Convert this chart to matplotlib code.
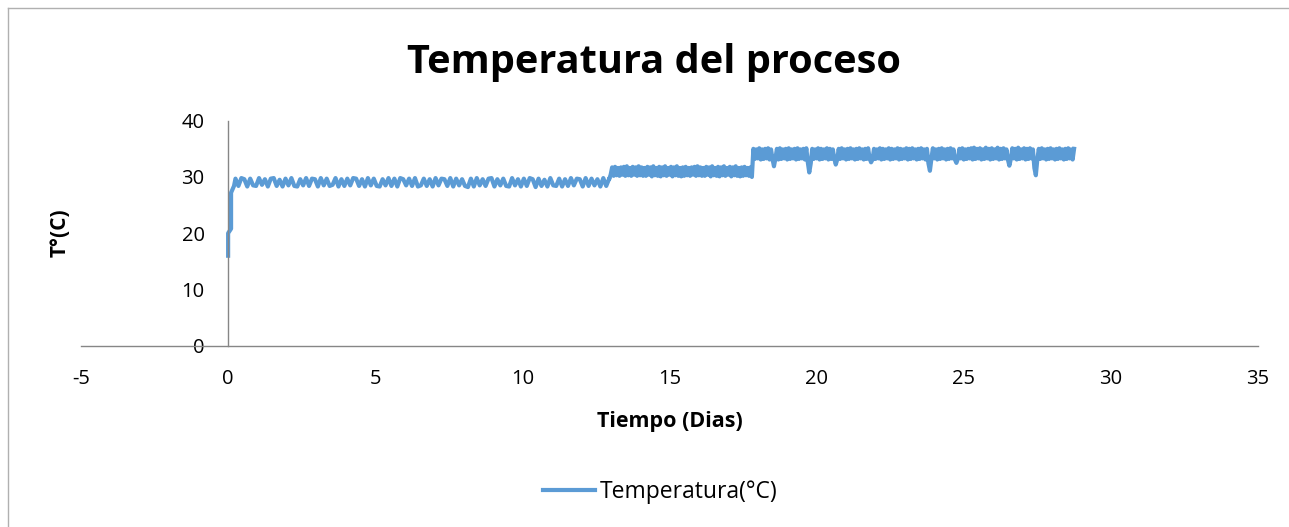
import numpy as np
import matplotlib.pyplot as plt
from matplotlib.lines import Line2D

# Arranque del proceso (dias, °C)
startup_days = [0.0, 0.0, 0.1, 0.1, 0.2]
startup_temp = [16.0, 20.0, 20.8, 27.2, 28.4]

# etapa 1: lectura cada 0.1 dias
stage1_start = 0.25
stage1_step = 0.1
stage1_temp = [
    29.7, 28.4, 29.8, 29.6, 28.3, 29.7, 28.5, 28.4, 29.8, 28.6,
    29.6, 28.3, 29.7, 29.8, 28.4, 29.5, 28.3, 29.7, 28.5, 29.8,
    28.4, 28.3, 29.6, 28.5, 29.8, 28.4, 29.7, 29.6, 28.3, 29.8,
    28.5, 29.7, 28.4, 28.6, 29.8, 28.3, 29.6, 28.4, 29.7, 28.5,
    29.8, 29.7, 28.4, 29.6, 28.3, 29.8, 28.5, 29.7, 28.4, 28.3,
    29.6, 28.5, 29.8, 28.4, 29.7, 28.3, 29.8, 29.6, 28.5, 29.7,
    28.4, 29.8, 28.3, 28.5, 29.7, 28.4, 29.6, 28.3, 29.8, 28.5,
    29.7, 29.6, 28.4, 29.8, 28.3, 29.7, 28.5, 29.6, 28.4, 28.2,
    29.7, 28.3, 29.8, 28.5, 29.6, 28.4, 29.7, 29.8, 28.3, 29.6,
    28.5, 29.7, 28.4, 28.3, 29.8, 28.5, 29.6, 28.3, 29.7, 28.4,
    29.8, 29.6, 28.2, 29.7, 28.4, 29.5, 28.3, 29.8, 28.5, 28.4,
    29.7, 28.3, 29.6, 28.4, 29.8, 28.5, 29.7, 29.6, 28.3, 29.8,
    28.4, 29.7, 28.5, 29.6, 28.3, 29.8, 28.4, 29.7,
]

# etapas 2 y 3: lectura cada 0.05 dias
stage2_start = 12.95
stage2_step = 0.05
stage2_temp = [
    29.6, 30.4, 31.7, 30.2, 31.8, 30.3, 31.6, 30.2, 31.7, 30.4,
    31.8, 30.2, 31.9, 30.3, 31.6, 30.2, 31.8, 30.4, 31.7, 30.2,
    31.9, 30.3, 31.7, 30.2, 31.6, 30.2, 31.8, 30.4, 31.7, 30.1,
    31.9, 30.3, 31.6, 30.2, 31.8, 30.1, 31.7, 30.3, 31.9, 30.2,
    31.6, 30.4, 31.8, 30.1, 31.7, 30.3, 31.9, 30.2, 31.6, 30.1,
    31.7, 30.2, 31.8, 30.3, 31.6, 30.2, 31.7, 30.4, 31.8, 30.2,
    31.9, 30.3, 31.7, 30.2, 31.6, 30.2, 31.8, 30.4, 31.7, 30.1,
    31.9, 30.3, 31.6, 30.2, 31.8, 30.1, 31.7, 30.3, 31.9, 30.2,
    31.6, 30.4, 31.8, 30.1, 31.7, 30.3, 31.9, 30.2, 31.6, 30.1,
    31.7, 30.2, 31.8, 30.3, 31.6, 30.2, 31.7, 30.0,
]

stage3_start = 17.85
stage3_step = 0.05
stage3_temp = [
    35.0, 33.2, 34.9, 33.3, 35.1, 33.1, 34.9, 33.2, 35.0, 33.3,
    35.1, 33.1, 34.9, 33.2, 31.9, 33.3, 35.0, 33.1, 35.1, 33.2,
    34.9, 33.3, 35.0, 33.1, 35.1, 33.2, 34.9, 33.3, 35.0, 33.1,
    35.1, 33.2, 34.9, 33.3, 35.0, 33.1, 35.1, 32.6, 30.8, 32.4,
    35.0, 33.2, 34.9, 33.3, 35.1, 33.1, 35.0, 33.2, 34.9, 33.3,
    35.1, 33.1, 35.0, 33.2, 34.9, 33.3, 32.2, 33.1, 35.0, 33.2,
    35.1, 33.3, 34.9, 33.1, 35.0, 33.2, 35.1, 33.3, 34.9, 33.1,
    35.0, 33.2, 35.1, 33.3, 34.9, 33.1, 35.0, 33.2, 35.1, 33.3,
    32.6, 33.1, 35.0, 33.2, 34.9, 33.3, 35.1, 33.1, 35.0, 33.2,
    34.9, 33.3, 35.1, 33.1, 35.0, 33.2, 34.9, 33.3, 35.1, 33.1,
    35.0, 33.2, 34.9, 33.3, 35.1, 33.1, 35.0, 33.2, 35.1, 33.3,
    34.9, 33.1, 35.0, 33.2, 35.1, 33.3, 34.9, 33.1, 35.0, 32.4,
    31.1, 33.2, 35.1, 33.3, 34.9, 33.1, 35.0, 33.2, 35.1, 33.3,
    34.9, 33.1, 35.0, 33.2, 35.1, 33.3, 34.9, 33.1, 32.5, 33.2,
    35.0, 33.3, 35.1, 33.1, 34.9, 33.2, 35.0, 33.3, 35.1, 33.1,
    35.2, 33.2, 35.0, 33.3, 35.1, 33.1, 34.9, 33.2, 35.2, 33.3,
    35.0, 33.1, 35.1, 33.2, 34.9, 33.3, 35.2, 33.1, 35.0, 33.2,
    35.1, 33.3, 34.9, 33.1, 32.0, 33.2, 35.1, 33.3, 35.0, 33.1,
    35.2, 33.2, 34.9, 33.3, 35.1, 33.1, 35.0, 33.2, 35.1, 33.3,
    34.9, 31.6, 30.3, 33.1, 35.0, 33.2, 35.1, 33.3, 34.9, 33.1,
    35.0, 33.2, 35.1, 33.3, 34.9, 33.1, 35.0, 33.2, 35.1, 33.3,
    34.9, 33.1, 35.0, 33.2, 35.1, 33.3, 34.9, 33.1, 35.0,
]

x_ticks = [-5, 0, 5, 10, 15, 20, 25, 30, 35]
y_ticks = [0, 10, 20, 30, 40]


def stage_days(start, step, temps):
    return start + step * np.arange(len(temps))


days = np.concatenate([
    startup_days,
    stage_days(stage1_start, stage1_step, stage1_temp),
    stage_days(stage2_start, stage2_step, stage2_temp),
    stage_days(stage3_start, stage3_step, stage3_temp),
])
temps = np.concatenate([startup_temp, stage1_temp, stage2_temp, stage3_temp])

plt.rcParams['font.family'] = ['Open Sans', 'DejaVu Sans']
plt.rcParams['axes.unicode_minus'] = False
W, H = 1289, 527
fig = plt.figure(figsize=(W / 100, H / 100), dpi=100)
ax = fig.add_axes([81 / W, 1 - 345.7 / H, (1258 - 81) / W, 225 / H])

line_color = '#5B9BD5'
axis_color = '#868686'

ax.plot(days, temps, color=line_color, lw=3.0, solid_joinstyle='round',
        label='Temperatura(°C)')

ax.set_xlim(-5, 35)
ax.set_ylim(0, 40)
ax.set_xticks(x_ticks)
ax.set_yticks(y_ticks)
ax.spines['top'].set_visible(False)
ax.spines['right'].set_visible(False)
ax.spines['left'].set_position(('data', 0))
for side in ('left', 'bottom'):
    ax.spines[side].set_color(axis_color)
    ax.spines[side].set_linewidth(1)
ax.tick_params(axis='x', length=0, pad=17, labelsize=14.5)
ax.tick_params(axis='y', length=0, pad=17, labelsize=14.5)

fig.text(654 / W, 1 - 73 / H, 'Temperatura del proceso', ha='center',
         va='baseline', fontsize=28.6, fontweight='bold')
fig.text(670 / W, 1 - 421 / H, 'Tiempo (Dias)', ha='center', va='center',
         fontsize=15.5, fontweight='bold')
fig.text(60 / W, 1 - 233 / H, 'T°(C)', ha='center', va='center',
         rotation=90, fontsize=15, fontweight='bold')

fig.legend(loc='center', bbox_to_anchor=(660 / W, 1 - 492 / H), frameon=False,
           fontsize=16.5, handlelength=2.3, handletextpad=0.18)

# borde del area del grafico
border = '#B0B0B0'
fig.add_artist(Line2D([8 / W, 1], [1 - 8 / H, 1 - 8 / H], color=border, lw=1))
fig.add_artist(Line2D([8 / W, 8 / W], [0, 1 - 8 / H], color=border, lw=1))

fig.savefig('out.png', dpi=100)
